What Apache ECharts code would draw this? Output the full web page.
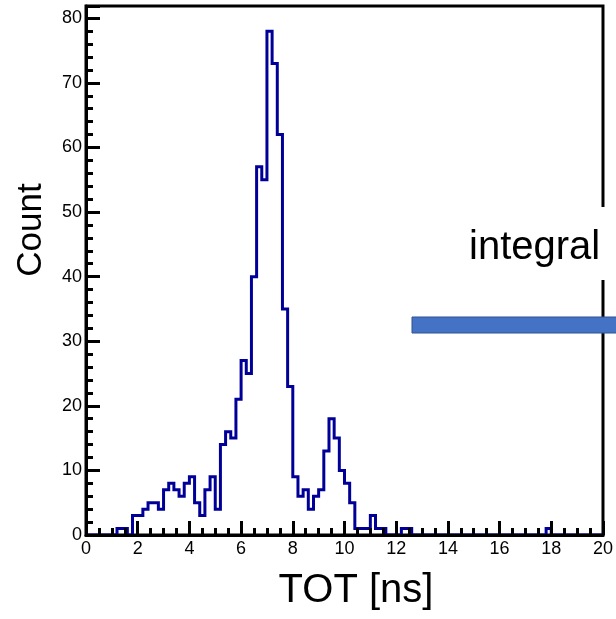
<!DOCTYPE html>
<html>
<head>
<meta charset="utf-8">
<script src="https://cdn.jsdelivr.net/npm/echarts@6/dist/echarts.min.js"></script>
<style>
  html, body { margin: 0; padding: 0; background: #fff; }
  #chart { width: 616px; height: 619px; }
</style>
</head>
<body>
<div id="chart"></div>
<script>
// Histogram of time-over-threshold: 100 bins of 0.2 ns from 0 to 20 ns
const xMin = 0;
const xMax = 20;
const binWidth = 0.2;
const counts = [
  0, 0, 0, 0, 0, 0, 1, 1, 0, 3,
  3, 4, 5, 5, 4, 7, 8, 7, 6, 8,
  9, 5, 3, 7, 9, 4, 14, 16, 15, 21,
  27, 25, 40, 57, 55, 78, 73, 62, 35, 23,
  9, 6, 7, 4, 6, 7, 13, 18, 15, 10,
  8, 5, 1, 1, 1, 3, 1, 1, 0, 0,
  0, 1, 1, 0, 0, 0, 0, 0, 0, 0,
  0, 0, 0, 0, 0, 0, 0, 0, 0, 0,
  0, 0, 0, 0, 0, 0, 0, 0, 0, 1,
  0, 0, 0, 0, 0, 0, 0, 0, 0, 0
];
const xTickLabels = [0, 2, 4, 6, 8, 10, 12, 14, 16, 18, 20];
const yTickLabels = [0, 10, 20, 30, 40, 50, 60, 70, 80];
const xTitle = 'TOT [ns]';
const yTitle = 'Count';
const noteText = 'integral';

// y range follows the usual 5% head-room above the tallest bin
const yMax = Math.max(...counts) * 1.05;

// step points at the left edge of every bin, closed at the last edge
const stepData = counts.map((c, i) => [xMin + i * binWidth, c]);
stepData.push([xMax, counts[counts.length - 1]]);

const FONT = '"Liberation Sans", Arial, Helvetica, sans-serif';
const tickStyle = { color: '#000', width: 3 };

const chart = echarts.init(document.getElementById('chart'), null, { renderer: 'canvas' });

chart.setOption({
  animation: false,
  backgroundColor: '#fff',
  grid: {
    left: 86, right: 9, top: 6, bottom: 84,
    show: true, borderColor: '#000', borderWidth: 3, backgroundColor: 'transparent'
  },
  xAxis: [
    {
      type: 'value', min: xMin, max: xMax, interval: 2, position: 'bottom', z: 5,
      axisLine: { show: true, lineStyle: { color: '#000', width: 3 } },
      axisTick: { show: true, inside: true, length: 14, lineStyle: tickStyle },
      axisLabel: {
        show: true, margin: 5, color: '#000', fontSize: 18, fontFamily: FONT,
        formatter: v => (xTickLabels.indexOf(v) >= 0 ? String(v) : '')
      },
      splitLine: { show: false }
    },
    {
      type: 'value', min: xMin, max: xMax, interval: 0.5, position: 'bottom', offset: 0, z: 5,
      axisLine: { show: false },
      axisTick: { show: true, inside: true, length: 7, lineStyle: tickStyle },
      axisLabel: { show: false },
      splitLine: { show: false }
    }
  ],
  yAxis: [
    {
      type: 'value', min: 0, max: yMax, interval: 10, position: 'left', z: 5,
      axisLine: { show: true, lineStyle: { color: '#000', width: 3 } },
      axisTick: { show: true, inside: true, length: 14, lineStyle: tickStyle },
      axisLabel: {
        show: true, margin: 4, color: '#000', fontSize: 18, fontFamily: FONT,
        formatter: v => (yTickLabels.indexOf(v) >= 0 ? String(v) : '')
      },
      splitLine: { show: false }
    },
    {
      type: 'value', min: 0, max: yMax, interval: 2, position: 'left', offset: 0, z: 5,
      axisLine: { show: false },
      axisTick: { show: true, inside: true, length: 7, lineStyle: tickStyle },
      axisLabel: { show: false },
      splitLine: { show: false }
    }
  ],
  series: [
    {
      type: 'line',
      xAxisIndex: 0, yAxisIndex: 0,
      step: 'end',
      symbol: 'none',
      z: 2,
      lineStyle: { color: '#000099', width: 3, join: 'miter' },
      data: stepData
    }
  ],
  graphic: [
    {
      type: 'text', x: 31, y: 230, rotation: Math.PI / 2, z: 10,
      style: { text: yTitle, font: '35px ' + FONT, fill: '#000', textAlign: 'center', textVerticalAlign: 'middle' }
    },
    {
      type: 'text', x: 356, y: 591, z: 10,
      style: { text: xTitle, font: '40px ' + FONT, fill: '#000', textAlign: 'center', textVerticalAlign: 'middle' }
    },
    {
      type: 'rect', z: 10,
      shape: { x: 455, y: 207, width: 170, height: 73 },
      style: { fill: '#fff', stroke: null }
    },
    {
      type: 'text', x: 469, y: 248, z: 11,
      style: { text: noteText, font: '40px ' + FONT, fill: '#000', textAlign: 'left', textVerticalAlign: 'middle' }
    },
    {
      type: 'rect', z: 12,
      shape: { x: 412, y: 317, width: 220, height: 16 },
      style: { fill: '#4472C4', stroke: '#2F528F', lineWidth: 1 }
    }
  ]
});
</script>
</body>
</html>
